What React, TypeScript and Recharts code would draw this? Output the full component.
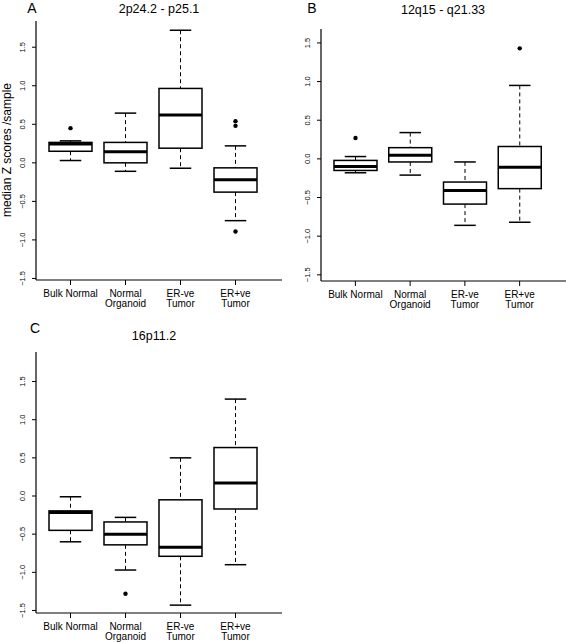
import React from 'react';
import { ComposedChart, Bar, XAxis, YAxis } from 'recharts';

const categories = ['Bulk Normal', 'Normal\nOrganoid', 'ER-ve\nTumor', 'ER+ve\nTumor'];
const yTicks = [-1.5, -1, -0.5, 0, 0.5, 1, 1.5];

// A: 2p24.2 - p25.1
const aLow = [0.03, -0.11, -0.07, -0.75];
const aQ1 = [0.15, 0.0, 0.19, -0.38];
const aMed = [0.245, 0.145, 0.62, -0.22];
const aQ3 = [0.265, 0.265, 0.965, -0.065];
const aHigh = [0.285, 0.645, 1.72, 0.22];
const aOut = [[0.45], [], [], [0.54, 0.48, -0.89]];

// B: 12q15 - q21.33
const bLow = [-0.18, -0.21, -0.86, -0.82];
const bQ1 = [-0.15, -0.04, -0.585, -0.385];
const bMed = [-0.1, 0.047, -0.41, -0.11];
const bQ3 = [-0.02, 0.145, -0.3, 0.16];
const bHigh = [0.03, 0.34, -0.04, 0.95];
const bOut = [[0.27], [], [], [1.43]];

// C: 16p11.2
const cLow = [-0.6, -0.97, -1.43, -0.9];
const cQ1 = [-0.45, -0.64, -0.79, -0.17];
const cMed = [-0.215, -0.5, -0.67, 0.17];
const cQ3 = [-0.195, -0.34, -0.05, 0.635];
const cHigh = [-0.01, -0.28, 0.5, 1.27];
const cOut = [[], [-1.28], [], []];

const font = '"Liberation Sans", Arial, Helvetica, sans-serif';

function buildRows(low: number[], q1: number[], med: number[], q3: number[], high: number[], out: number[][]) {
  return categories.map((name, i) => {
    const all = [low[i], high[i], ...out[i]];
    return {
      name,
      low: low[i],
      q1: q1[i],
      med: med[i],
      q3: q3[i],
      high: high[i],
      out: out[i],
      range: [Math.min(...all), Math.max(...all)],
    };
  });
}

const rowsA = buildRows(aLow, aQ1, aMed, aQ3, aHigh, aOut);
const rowsB = buildRows(bLow, bQ1, bMed, bQ3, bHigh, bOut);
const rowsC = buildRows(cLow, cQ1, cMed, cQ3, cHigh, cOut);

const fmtY = (v: number) => (v < 0 ? '\u2212' : '') + Math.abs(v).toFixed(1);

function BoxShape(props: any) {
  const { x, y, width, height, payload } = props;
  const [lo, hi] = payload.range;
  const top = Math.min(y, y + height);
  const bot = Math.max(y, y + height);
  // map a value to pixels using the bar's own scaled extent
  const py = (v: number) => top + ((hi - v) / (hi - lo)) * (bot - top);
  const cx = x + width / 2;
  const cap = width / 4;
  return (
    <g>
      <line x1={cx} x2={cx} y1={py(payload.high)} y2={py(payload.q3)} stroke="#000" strokeWidth={1} strokeDasharray="4 3" />
      <line x1={cx} x2={cx} y1={py(payload.q1)} y2={py(payload.low)} stroke="#000" strokeWidth={1} strokeDasharray="4 3" />
      <line x1={cx - cap} x2={cx + cap} y1={py(payload.high)} y2={py(payload.high)} stroke="#000" strokeWidth={1.5} />
      <line x1={cx - cap} x2={cx + cap} y1={py(payload.low)} y2={py(payload.low)} stroke="#000" strokeWidth={1.5} />
      <rect x={x} y={py(payload.q3)} width={width} height={py(payload.q1) - py(payload.q3)} fill="#fff" stroke="#000" strokeWidth={1.5} />
      <line x1={x} x2={x + width} y1={py(payload.med)} y2={py(payload.med)} stroke="#000" strokeWidth={3} />
      {payload.out.map((o: number, i: number) => (
        <circle key={i} cx={cx} cy={py(o)} r={2.2} fill="#000" />
      ))}
    </g>
  );
}

function XTick(props: any) {
  const { x, y, payload } = props;
  const lines = String(payload.value).split('\n');
  return (
    <text x={x} y={y} textAnchor="middle" fontSize={10} fill="#000" fontFamily={font}>
      {lines.map((l, i) => (
        <tspan key={i} x={x} dy={i === 0 ? 10 : 9.5}>{l}</tspan>
      ))}
    </text>
  );
}

function YTick(props: any) {
  const { x, y, payload } = props;
  return (
    <text x={x} y={y} textAnchor="middle" fontSize={7.5} fill="#000" fontFamily={font} transform={`rotate(-90, ${x}, ${y})`}>
      {fmtY(payload.value)}
    </text>
  );
}

type PanelProps = {
  rows: any[];
  domain: [number, number];
  width: number;
  height: number;
  margin: { top: number; right: number; bottom: number; left: number };
};

function Panel({ rows, domain, width, height, margin }: PanelProps) {
  return (
    <ComposedChart width={width} height={height} data={rows} margin={margin}>
      <XAxis
        dataKey="name"
        type="category"
        interval={0}
        padding={{ left: 7, right: 19 }}
        height={20}
        tickSize={5}
        tickMargin={2}
        tick={<XTick />}
        axisLine={{ stroke: '#000', strokeWidth: 1.2 }}
        tickLine={{ stroke: '#000' }}
      />
      <YAxis
        type="number"
        domain={domain}
        ticks={yTicks}
        interval={0}
        width={36}
        tickSize={4}
        tickMargin={7}
        tick={<YTick />}
        axisLine={{ stroke: '#000', strokeWidth: 1.2 }}
        tickLine={{ stroke: '#000' }}
      />
      <Bar dataKey="range" barSize={43} shape={<BoxShape />} isAnimationActive={false} />
    </ComposedChart>
  );
}

export default function App() {
  return (
    <div style={{ position: 'absolute', left: 0, top: 0, width: 566, height: 642, background: '#fff', fontFamily: font }}>
      <div style={{ position: 'absolute', left: 0, top: 0 }}>
        <Panel rows={rowsA} domain={[-1.52, 1.84]} width={290} height={315} margin={{ top: 21, right: 8, bottom: 15, left: 0 }} />
      </div>
      <div style={{ position: 'absolute', left: 285, top: 0 }}>
        <Panel rows={rowsB} domain={[-1.58, 1.68]} width={281} height={316} margin={{ top: 29, right: 0, bottom: 15, left: 0 }} />
      </div>
      <div style={{ position: 'absolute', left: 0, top: 320 }}>
        <Panel rows={rowsC} domain={[-1.533, 1.887]} width={290} height={322} margin={{ top: 32, right: 8, bottom: 9, left: 0 }} />
      </div>
      <svg width={566} height={642} style={{ position: 'absolute', left: 0, top: 0, pointerEvents: 'none' }}>
        <g fontFamily={font} fill="#000">
          <text x={32} y={13} fontSize={14} textAnchor="middle">A</text>
          <text x={159} y={13} fontSize={12.5} textAnchor="middle">2p24.2 - p25.1</text>
          <text x={312} y={13} fontSize={14} textAnchor="middle">B</text>
          <text x={443} y={14} fontSize={12.5} textAnchor="middle">12q15 - q21.33</text>
          <text x={35} y={333} fontSize={14} textAnchor="middle">C</text>
          <text x={154} y={340} fontSize={12.5} textAnchor="middle">16p11.2</text>
          <text x={11} y={150} fontSize={12} textAnchor="middle" transform="rotate(-90, 11, 150)">median Z scores /sample</text>
        </g>
      </svg>
    </div>
  );
}
